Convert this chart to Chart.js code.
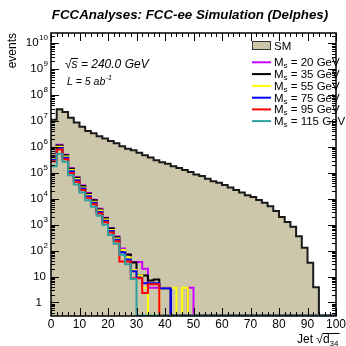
<!DOCTYPE html>
<html>
<head>
<meta charset="utf-8">
<title>Jet sqrt(d34)</title>
<script src="https://cdn.jsdelivr.net/npm/chart.js@4.4.0/dist/chart.umd.min.js"></script>
<style>
  html, body { margin: 0; padding: 0; background: #ffffff; }
  canvas { display: block; }
</style>
</head>
<body>
<canvas id="d34Chart" width="346" height="346"></canvas>
<script>
// Jet sqrt(d34), 50 bins of 2 GeV from 0 to 100 (events for L = 5 ab^-1)
const BIN_WIDTH = 2;
const X_MIN = 0;
const X_MAX = 100;
const Y_MIN = 0.316;
const Y_MAX = 2.5e10;

const smEvents = [
    1.12e7, 2.88e7, 2.24e7, 1.35e7, 8.7e6, 6.0e6, 4.1e6, 3.4e6, 2.6e6, 2.1e6,
    1.7e6, 1.38e6, 1.07e6, 8.5e5, 7.4e5, 6.0e5, 4.8e5, 3.9e5, 3.1e5, 2.6e5,
    2.24e5, 1.82e5, 1.55e5, 1.29e5, 1.07e5, 8.7e4, 7.6e4, 6.0e4, 4.8e4, 4.2e4,
    3.4e4, 2.7e4, 2.2e4, 1.74e4, 1.38e4, 1.17e4, 8.9e3, 7.1e3, 5.2e3, 3.4e3,
    2.0e3, 1.26e3, 830, 360, 130, 34, 3.9, 0, 0, 0
];

const ms20Events = [
    4.2e5, 1.21e6, 5.0e5, 1.52e5, 6.8e4, 3.25e4, 1.66e4, 9.1e3, 4.1e3, 1.87e3,
    745, 347, 120, 70, 36, 36, 20, 3.7, 3.7, 3.7,
    3.7, 0, 0, 0, 3.7, 0, 0, 0, 0, 0,
    0, 0, 0, 0, 0, 0, 0, 0, 0, 0,
    0, 0, 0, 0, 0, 0, 0, 0, 0, 0
];

const ms35Events = [
    4.0e5, 1.15e6, 4.8e5, 1.45e5, 6.5e4, 3.1e4, 1.58e4, 8.7e3, 3.9e3, 1.78e3,
    710, 330, 100, 71, 35, 11, 11, 7, 7.7, 3.5,
    3.5, 0, 0, 0, 0, 0, 0, 0, 0, 0,
    0, 0, 0, 0, 0, 0, 0, 0, 0, 0,
    0, 0, 0, 0, 0, 0, 0, 0, 0, 0
];

const ms55Events = [
    3.55e5, 1.02e6, 4.3e5, 1.29e5, 5.8e4, 2.75e4, 1.4e4, 7.7e3, 3.5e3, 1.58e3,
    630, 295, 105, 56, 18, 11, 3.7, 0, 0, 3.7,
    3.7, 3.7, 0, 3.7, 0, 0, 0, 0, 0, 0,
    0, 0, 0, 0, 0, 0, 0, 0, 0, 0,
    0, 0, 0, 0, 0, 0, 0, 0, 0, 0
];

const ms75Events = [
    3.2e5, 9.2e5, 3.85e5, 1.16e5, 5.2e4, 2.5e4, 1.26e4, 7.0e3, 3.1e3, 1.42e3,
    570, 265, 87, 45, 16, 9, 5.5, 5.5, 5.5, 3.5,
    3.5, 0, 0, 0, 0, 0, 0, 0, 0, 0,
    0, 0, 0, 0, 0, 0, 0, 0, 0, 0,
    0, 0, 0, 0, 0, 0, 0, 0, 0, 0
];

const ms95Events = [
    2.8e5, 8.0e5, 3.35e5, 1.0e5, 4.5e4, 2.2e4, 1.1e4, 6.1e3, 2.7e3, 1.25e3,
    500, 230, 38, 38, 8.5, 8.5, 2.3, 5, 5, 0,
    0, 0, 0, 0, 0, 0, 0, 0, 0, 0,
    0, 0, 0, 0, 0, 0, 0, 0, 0, 0,
    0, 0, 0, 0, 0, 0, 0, 0, 0, 0
];

const ms115Events = [
    1.8e5, 5.4e5, 2.7e5, 8.1e4, 3.6e4, 1.75e4, 8.8e3, 4.9e3, 2.2e3, 1.0e3,
    400, 185, 70, 30, 8, 0, 0, 0, 0, 0,
    0, 0, 0, 0, 0, 0, 0, 0, 0, 0,
    0, 0, 0, 0, 0, 0, 0, 0, 0, 0,
    0, 0, 0, 0, 0, 0, 0, 0, 0, 0
];

const signalMasses = ['20', '35', '55', '75', '95', '115'];
const signalSeries = [ms20Events, ms35Events, ms55Events, ms75Events, ms95Events, ms115Events];
const signalColors = ['#cc00ff', '#000000', '#ffff00', '#0000ff', '#ff0000', '#2f9f9f'];

const xTickLabels = [0, 10, 20, 30, 40, 50, 60, 70, 80, 90, 100];
const yDecadeExponents = [0, 1, 2, 3, 4, 5, 6, 7, 8, 9, 10];

const SM_FILL = '#ccc6aa';
const FONT = "'Liberation Sans', Arial, Helvetica, sans-serif";

// left bin edges plus the closing right edge; empty bins sit on the frame bottom
const toSteps = (values) => {
    const pts = values.map((v, i) => ({ x: X_MIN + i * BIN_WIDTH, y: Math.max(v, Y_MIN) }));
    pts.push({ x: X_MIN + values.length * BIN_WIDTH, y: Math.max(values[values.length - 1], Y_MIN) });
    return pts;
};

const datasets = [{
    label: 'SM',
    data: toSteps(smEvents),
    stepped: true,
    borderColor: '#1a1a1a',
    borderWidth: 2,
    backgroundColor: SM_FILL,
    fill: 'start',
    pointRadius: 0,
    order: 10
}];

signalSeries.forEach((values, i) => {
    datasets.push({
        label: signalMasses[i],
        data: toSteps(values),
        stepped: true,
        borderColor: signalColors[i],
        borderWidth: 2,
        fill: false,
        pointRadius: 0,
        order: signalSeries.length - i
    });
});

const drawSup = (ctx, base, sup, rightX, cy, size) => {
    ctx.font = `${size}px ${FONT}`;
    const supSize = Math.round(size * 0.68);
    const wBase = ctx.measureText(base).width;
    ctx.font = `${supSize}px ${FONT}`;
    const wSup = sup ? ctx.measureText(sup).width + 0.5 : 0;
    const left = rightX - wBase - wSup;
    ctx.font = `${size}px ${FONT}`;
    ctx.textBaseline = 'middle';
    ctx.textAlign = 'left';
    ctx.fillText(base, left, cy);
    if (sup) {
        ctx.font = `${supSize}px ${FONT}`;
        ctx.fillText(sup, left + wBase + 0.5, cy - size * 0.45);
    }
};

const rootAxes = {
    id: 'rootAxes',
    afterDatasetsDraw(chart) {
        const { ctx, chartArea: area, scales: { x, y } } = chart;
        ctx.save();
        ctx.fillStyle = '#000';
        ctx.strokeStyle = '#000';

        // legend
        const legX0 = 252;
        const legX1 = 271;
        ctx.fillStyle = SM_FILL;
        ctx.fillRect(legX0, 41, legX1 - legX0, 9);
        ctx.strokeStyle = '#333';
        ctx.lineWidth = 1;
        ctx.strokeRect(legX0 + 0.5, 41.5, legX1 - legX0 - 1, 8);
        ctx.fillStyle = '#000';
        ctx.font = `11.5px ${FONT}`;
        ctx.textBaseline = 'alphabetic';
        ctx.textAlign = 'left';
        ctx.fillText('SM', 274, 50);
        const legRows = [62.3, 74.1, 85.9, 97.7, 109.4, 121.1];
        signalMasses.forEach((m, i) => {
            const cy = legRows[i];
            ctx.strokeStyle = signalColors[i];
            ctx.lineWidth = 2;
            ctx.beginPath();
            ctx.moveTo(legX0, cy);
            ctx.lineTo(legX1, cy);
            ctx.stroke();
            ctx.fillStyle = '#000';
            ctx.font = `11.5px ${FONT}`;
            ctx.fillText('M', 274, cy + 4);
            const wM = ctx.measureText('M').width;
            ctx.font = `8px ${FONT}`;
            ctx.fillText('s', 274 + wM, cy + 6);
            const ws = ctx.measureText('s').width;
            ctx.font = `11.5px ${FONT}`;
            ctx.fillText(` = ${m} GeV`, 274 + wM + ws, cy + 4);
        });

        // centre-of-mass energy and luminosity
        ctx.font = `italic 12px ${FONT}`;
        ctx.fillText('\u221A', 65, 68);
        const wRoot = ctx.measureText('\u221A').width;
        ctx.fillText('s', 65 + wRoot, 68);
        const wS = ctx.measureText('s').width;
        ctx.lineWidth = 1;
        ctx.strokeStyle = '#000';
        ctx.beginPath();
        ctx.moveTo(65 + wRoot - 0.5, 58.5);
        ctx.lineTo(65 + wRoot + wS + 0.5, 58.5);
        ctx.stroke();
        ctx.fillText(' = 240.0 GeV', 65 + wRoot + wS, 68);

        ctx.font = `italic 10.5px ${FONT}`;
        ctx.fillText('L = 5 ab', 67, 85);
        const wL = ctx.measureText('L = 5 ab').width;
        ctx.font = `italic 7px ${FONT}`;
        ctx.fillText('-1', 67 + wL + 0.5, 80);

        // frame
        ctx.strokeStyle = '#000';
        ctx.lineWidth = 1.5;
        ctx.strokeRect(area.left, area.top, area.width, area.height);

        // x ticks, bottom and top
        ctx.lineWidth = 1;
        ctx.beginPath();
        for (let v = X_MIN; v <= X_MAX; v += BIN_WIDTH) {
            const px = Math.round(x.getPixelForValue(v)) + 0.5;
            const len = v % 10 === 0 ? 8 : 4;
            ctx.moveTo(px, area.bottom);
            ctx.lineTo(px, area.bottom - len);
            ctx.moveTo(px, area.top);
            ctx.lineTo(px, area.top + len);
        }
        // y ticks, left and right
        for (let d = -1; d <= 10; d++) {
            for (let m = 1; m <= 9; m++) {
                const v = m * Math.pow(10, d);
                if (v < Y_MIN || v > Y_MAX) continue;
                const py = Math.round(y.getPixelForValue(v)) + 0.5;
                const len = m === 1 ? 8 : 4;
                ctx.moveTo(area.left, py);
                ctx.lineTo(area.left + len, py);
                ctx.moveTo(area.right, py);
                ctx.lineTo(area.right - len, py);
            }
        }
        ctx.stroke();

        // tick labels
        ctx.fillStyle = '#000';
        ctx.font = `12px ${FONT}`;
        ctx.textAlign = 'center';
        ctx.textBaseline = 'alphabetic';
        xTickLabels.forEach((v) => {
            ctx.fillText(String(v), x.getPixelForValue(v), 328);
        });
        yDecadeExponents.forEach((e) => {
            const py = y.getPixelForValue(Math.pow(10, e));
            if (e === 0) drawSup(ctx, '1', '', 42, py, 11.5);
            else if (e === 1) drawSup(ctx, '10', '', 46, py, 11.5);
            else drawSup(ctx, '10', String(e), 48, py, 11.5);
        });

        // axis titles
        ctx.textBaseline = 'alphabetic';
        ctx.textAlign = 'left';
        ctx.font = `12px ${FONT}`;
        const jetX = 297;
        ctx.fillText('Jet ', jetX, 343);
        const wJet = ctx.measureText('Jet ').width;
        ctx.fillText('\u221A', jetX + wJet, 343);
        const wSq = ctx.measureText('\u221A').width;
        ctx.fillText('d', jetX + wJet + wSq, 343);
        const wd = ctx.measureText('d').width;
        ctx.font = `8px ${FONT}`;
        ctx.fillText('34', jetX + wJet + wSq + wd, 346);
        const w34 = ctx.measureText('34').width;
        ctx.beginPath();
        ctx.moveTo(jetX + wJet + wSq - 0.5, 333.5);
        ctx.lineTo(jetX + wJet + wSq + wd + w34 + 1, 333.5);
        ctx.stroke();

        ctx.save();
        ctx.translate(16, 33);
        ctx.rotate(-Math.PI / 2);
        ctx.font = `12px ${FONT}`;
        ctx.textAlign = 'right';
        ctx.fillText('events', 0, 0);
        ctx.restore();

        // title
        ctx.font = `bold italic 13.3px ${FONT}`;
        ctx.textAlign = 'center';
        ctx.fillText('FCCAnalyses: FCC-ee Simulation (Delphes)', 190, 18.5);

        ctx.restore();
    }
};

new Chart(document.getElementById('d34Chart'), {
    type: 'line',
    data: { datasets },
    options: {
        responsive: false,
        animation: false,
        devicePixelRatio: 1,
        parsing: true,
        layout: { padding: { left: 51, right: 10, top: 33, bottom: 30 } },
        elements: { line: { tension: 0 } },
        plugins: {
            legend: { display: false },
            tooltip: { enabled: false },
            title: { display: false }
        },
        scales: {
            x: { type: 'linear', min: X_MIN, max: X_MAX, display: false },
            y: { type: 'logarithmic', min: Y_MIN, max: Y_MAX, display: false }
        }
    },
    plugins: [rootAxes]
});
</script>
</body>
</html>
